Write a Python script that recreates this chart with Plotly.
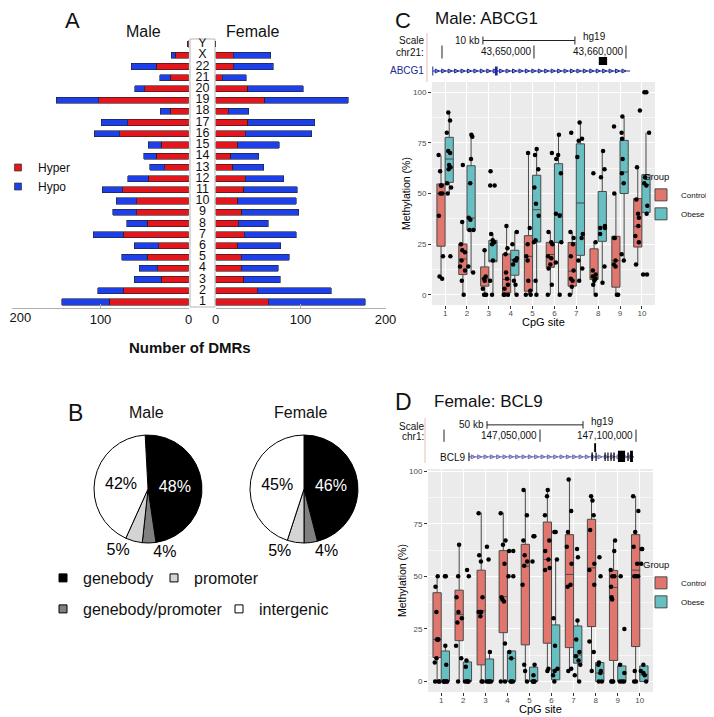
import numpy as np
import plotly.graph_objects as go

W, H = 714, 717
OFF = 8  # the page body adds an 8px margin around the plot div
FONT = "Liberation Sans, Arial, sans-serif"


def px(x):
    return (x - OFF) / W


def py(y):
    return 1 - (y - OFF) / H


# ---------------- panel A: DMRs per chromosome ----------------
chroms = [str(i) for i in range(1, 23)] + ["X", "Y"]
male_hyper = [90, 74, 31, 35, 47, 34, 74, 47, 59, 59, 75, 46, 27, 37, 31, 78, 69, 21, 102, 50, 21, 37, 15, 1]
male_hypo = [54, 29, 31, 21, 29, 28, 34, 23, 27, 23, 23, 23, 17, 14, 15, 29, 30, 11, 48, 11, 12, 28, 5, 0]
female_hyper = [62, 49, 33, 30, 30, 26, 34, 27, 31, 26, 33, 35, 20, 18, 26, 35, 38, 15, 58, 38, 8, 21, 21, 0]
female_hypo = [114, 87, 43, 44, 57, 51, 61, 35, 67, 69, 63, 45, 37, 33, 49, 78, 79, 24, 98, 65, 28, 47, 44, 0]
dmr_ticks = [0, 100, 200]

# ---------------- panel B: genomic location ----------------
pie_labels = ["genebody", "genebody/promoter", "promoter", "intergenic"]
pie_colors = ["#000000", "#808080", "#d4d4d4", "#ffffff"]
male_pie = [48, 4, 5, 42]
female_pie = [46, 4, 5, 45]
male_pie_text = ["48%", "4%", "5%", "42%"]
female_pie_text = ["46%", "4%", "5%", "45%"]

# ---------------- panels C / D: methylation per CpG site ----------------
sites = list(range(1, 11))

c_ctrl_q1 = [24, 10, 4.3, 1, 1.8, 13.6, 4.3, 7.6, 3.8, 23.6]
c_ctrl_med = [50, 17.7, 7.9, 7.6, 19, 19.9, 11.7, 8.7, 16.9, 33.8]
c_ctrl_q3 = [54.7, 25.1, 13.8, 20.2, 29.2, 25.9, 25.8, 22.7, 28.9, 47.5]
c_ctrl_lo = [8.4, 0, 0, 0, 0, 0, 0, 0, 0, 14.6]
c_ctrl_hi = [68.8, 36, 22.3, 33.8, 70.4, 31, 31, 26.4, 50, 62.9]
c_ob_q1 = [55.5, 31.7, 16.3, 9.7, 26.1, 25.9, 19.5, 26.4, 50, 40.7]
c_ob_med = [67, 37.9, 17, 17.4, 42, 40, 45.3, 33.5, 60.6, 54.4]
c_ob_q3 = [77.7, 63.7, 26.9, 22, 59, 64.7, 74.5, 51, 76.2, 59.3]
c_ob_lo = [50, 10.8, 0, 0, 0, 0, 7, 6.4, 17, 40.4]
c_ob_hi = [90, 79, 30.2, 31.4, 71.6, 78.7, 84.7, 70.8, 87.5, 80]
c_ctrl_pts = [
    [69, 61, 54, 54, 50, 50, 39, 19, 9, 8],
    [64, 36, 25, 22, 21, 17, 14, 12, 7, 0],
    [22, 9, 8, 7, 3, 0, 0, 0],
    [34, 23, 20, 11, 8, 5, 3, 0, 0, 0],
    [70, 33, 25, 19, 17, 7, 2, 0, 0],
    [70, 31, 26, 25, 19, 18, 15, 13, 5, 0],
    [80, 31, 28, 25, 19, 12, 8, 7, 4, 0],
    [60, 26, 12, 10, 9, 8, 7, 5, 0],
    [83, 50, 28, 28, 17, 15, 14, 0, 0],
    [91, 63, 47, 40, 38, 34, 29, 26, 15],
]
c_ob_pts = [
    [90, 86, 80, 71, 70, 64, 63, 62, 55, 53, 50, 19],
    [79, 78, 67, 55, 38, 37, 32, 32, 14, 11],
    [61, 54, 54, 30, 27, 26, 25, 17, 7, 0],
    [31, 25, 18, 17, 17, 15, 7, 5, 0],
    [72, 69, 62, 53, 45, 39, 27, 26, 7, 0],
    [79, 69, 67, 60, 40, 39, 26, 16, 0],
    [85, 77, 76, 68, 30, 28, 17, 13, 7],
    [71, 62, 58, 34, 33, 33, 30, 14, 6],
    [88, 80, 77, 67, 60, 55, 20, 17],
    [100, 100, 80, 58, 55, 54, 44, 40, 10, 10],
]

d_ctrl_q1 = [11.4, 19.4, 7.9, 23.2, 17.4, 18.2, 16.1, 26.1, 10, 16.6]
d_ctrl_med = [20, 31.9, 33.6, 40.3, 54.8, 58, 50.9, 54, 44.7, 52.9]
d_ctrl_q3 = [42.2, 43.4, 52.9, 62.2, 65.2, 75.8, 69.8, 77.1, 52.8, 69.8]
d_ctrl_lo = [0, 0, 0, 0, 0, 4.4, 4.7, 5.2, 0, 0]
d_ctrl_hi = [50.2, 65.6, 80.3, 80.3, 90.8, 91.3, 96.4, 88.2, 66.8, 88.2]
d_ob_q1 = [0, 0, 0, 0, 0, 0.8, 8.7, 0, 0, 0]
d_ob_med = [0, 0, 0, 11, 0, 5.5, 12.6, 4, 0, 3.2]
d_ob_q3 = [14.5, 9.3, 10.7, 14.5, 6.8, 26.9, 26.4, 9, 7.4, 7.4]
d_ob_lo = [0, 0, 0, 0, 0, 0, 0, 0, 0, 0]
d_ob_hi = [16.9, 10, 14.2, 14.5, 8.7, 57.7, 28.8, 9, 8.7, 8.7]
d_ctrl_pts = [
    [50, 45, 33, 20, 20, 20, 11, 9, 0, 0, 0],
    [65, 50, 40, 33, 30, 28, 17, 11, 0],
    [80, 60, 57, 40, 33, 33, 33, 31, 0, 0],
    [80, 67, 65, 56, 40, 39, 38, 18, 0, 0],
    [91, 79, 67, 60, 57, 55, 46, 8, 5, 0],
    [91, 88, 79, 67, 62, 58, 54, 53, 6, 5],
    [96, 81, 71, 64, 56, 46, 45, 6, 5],
    [88, 86, 79, 72, 56, 53, 46, 19, 14, 5],
    [67, 62, 53, 50, 50, 45, 40, 39, 0, 0, 0],
    [88, 81, 71, 64, 56, 50, 50, 50, 5, 0, 0],
]
d_ob_pts = [
    [50, 50, 17, 8, 0, 0, 0, 0, 0],
    [53, 50, 10, 7, 0, 0, 0, 0],
    [64, 58, 14, 0, 0, 0, 0],
    [62, 62, 50, 50, 14, 11, 0, 0, 0],
    [69, 69, 57, 8, 3, 0, 0, 0, 0],
    [71, 71, 58, 30, 17, 6, 5, 3, 0],
    [63, 59, 29, 20, 14, 12, 10, 8, 3, 0],
    [59, 50, 9, 8, 5, 4, 0, 0],
    [50, 25, 8, 4, 0, 0, 0],
    [63, 63, 56, 8, 5, 4, 3, 0],
]

# ---------------- genome browser tracks (hg19) ----------------
c_ticks = [43640000, 43650000, 43660000]
c_tick_labels = ["", "43,650,000", "43,660,000"]
c_scale = [43644450, 43654450]
c_gene = [43639000, 43660450]
c_exons = [(43645750, 43646050)]
c_dmr = [43657050, 43657950]

d_ticks = [147000000, 147050000, 147100000]
d_tick_labels = ["", "147,050,000", "147,100,000"]
d_scale = [147022400, 147072400]
d_gene = [147013000, 147098900]
d_exons_thin = [(147076800, 147077500), (147078900, 147079500), (147083600, 147084200),
                (147085100, 147085700), (147086700, 147087300), (147088200, 147088900),
                (147095500, 147096200)]
d_exons_thick = [(147090600, 147094300), (147096900, 147098400)]
d_dmr = [147078200, 147079200]

RED, BLUE = "#E3161D", "#1E40EA"
CTRL, OBESE = "#E0766D", "#67BFC2"

fig = go.Figure()

# ---- A: bars
bar_line = dict(color="rgba(30,30,30,0.85)", width=0.7)
for xa, hyper, hypo in [("x", male_hyper, male_hypo), ("x2", female_hyper, female_hypo)]:
    fig.add_trace(go.Bar(y=chroms, x=hyper, orientation="h", name="Hyper", marker=dict(color=RED, line=bar_line),
                         xaxis=xa, yaxis="y", showlegend=False))
    fig.add_trace(go.Bar(y=chroms, x=hypo, orientation="h", name="Hypo", marker=dict(color=BLUE, line=bar_line),
                         xaxis=xa, yaxis="y", showlegend=False))
for lab, col in [("Hyper", RED), ("Hypo", BLUE)]:
    fig.add_trace(go.Scatter(x=[None], y=[None], mode="markers", name=lab, xaxis="x", yaxis="y",
                             marker=dict(symbol="square", size=7, color=col, line=dict(color="#333", width=0.7)),
                             legend="legend3"))
fig.add_trace(go.Scatter(x=[0] * len(chroms), y=chroms, text=chroms, mode="text", xaxis="x3", yaxis="y",
                         textfont=dict(size=12.5, color="#111", family=FONT), showlegend=False, hoverinfo="skip"))
# empty trace so the overlay axis carrying the "200" label gets drawn
fig.add_trace(go.Scatter(x=[None], y=[None], mode="markers", xaxis="x8", yaxis="y", showlegend=False,
                         hoverinfo="skip"))

# ---- B: pies
for vals, txt, xd, rot in [(male_pie, male_pie_text, (94, 202), -3), (female_pie, female_pie_text, (250, 358), 0)]:
    fig.add_trace(go.Pie(
        values=vals, labels=pie_labels, text=txt, textinfo="text", sort=False, direction="clockwise",
        rotation=rot,
        marker=dict(colors=pie_colors, line=dict(color="black", width=1)),
        textposition=["inside", "outside", "outside", "inside"],
        insidetextorientation="horizontal",
        textfont=dict(size=16, family=FONT, color=["white", "black", "black", "black"]),
        domain=dict(x=[px(xd[0]), px(xd[1])], y=[py(543), py(435)]),
        showlegend=False, hoverinfo="label+percent"))

# legend keys for B
for lab, col in zip(pie_labels, pie_colors):
    fig.add_trace(go.Scatter(x=[None], y=[None], mode="markers", name=lab, xaxis="x", yaxis="y",
                             marker=dict(symbol="square", size=8, color=col, line=dict(color="black", width=1)),
                             legend="legend4" if lab in ("genebody", "promoter") else "legend5"))


# ---- C / D: boxplots with points
def add_boxes(xa, ya, leg, groups):
    for name, color, q1, med, q3, lo, hi, pts, og in groups:
        fig.add_trace(go.Box(
            x=sites, q1=q1, median=med, q3=q3, lowerfence=lo, upperfence=hi, name=name,
            fillcolor=color, line=dict(color="#4a4a4a", width=1), whiskerwidth=0, boxpoints=False,
            offsetgroup=og, xaxis=xa, yaxis=ya, legend=leg))
        xs = [s for s, p in zip(sites, pts) for _ in p]
        ys = [v for p in pts for v in p]
        fig.add_trace(go.Box(
            x=xs, y=ys, name=name, boxpoints="all", jitter=0.8, pointpos=0,
            fillcolor="rgba(0,0,0,0)", line=dict(width=0), whiskerwidth=0,
            marker=dict(color="black", size=4.5, line=dict(width=0)),
            offsetgroup=og, xaxis=xa, yaxis=ya, showlegend=False, hoveron="points"))


add_boxes("x4", "y4", "legend", [
    ("Control", CTRL, c_ctrl_q1, c_ctrl_med, c_ctrl_q3, c_ctrl_lo, c_ctrl_hi, c_ctrl_pts, "ctrl"),
    ("Obese", OBESE, c_ob_q1, c_ob_med, c_ob_q3, c_ob_lo, c_ob_hi, c_ob_pts, "ob"),
])
add_boxes("x5", "y5", "legend2", [
    ("Control", CTRL, d_ctrl_q1, d_ctrl_med, d_ctrl_q3, d_ctrl_lo, d_ctrl_hi, d_ctrl_pts, "ctrl"),
    ("Obese", OBESE, d_ob_q1, d_ob_med, d_ob_q3, d_ob_lo, d_ob_hi, d_ob_pts, "ob"),
])

# ---- genome browser drawings
shapes = []
annotations = []


def browser(xa, ya, ticks, labels, scale, scale_lbl, gene, gene_y, gene_col, exon_col, chev_step, dmr, dmr_y,
            exons_thin, exons_thick):
    fig.add_trace(go.Scatter(x=scale, y=[0.79, 0.79], mode="lines", line=dict(color="#222", width=1),
                             xaxis=xa, yaxis=ya, showlegend=False, hoverinfo="skip"))
    for s in scale:
        shapes.append(dict(type="line", xref=xa, yref=ya, x0=s, x1=s, y0=0.71, y1=0.87,
                           line=dict(color="#222", width=1)))
    annotations.append(dict(x=scale[0], y=0.79, xref=xa, yref=ya, text=scale_lbl, showarrow=False,
                            xanchor="right", xshift=-1, font=dict(size=10, color="#111", family=FONT)))
    annotations.append(dict(x=scale[1], y=0.86, xref=xa, yref=ya, text="hg19", showarrow=False,
                            xanchor="left", xshift=6, font=dict(size=10, color="#111", family=FONT)))
    for t, lab in zip(ticks, labels):
        shapes.append(dict(type="line", xref=xa, yref=ya, x0=t, x1=t, y0=0.43, y1=0.69,
                           line=dict(color="#222", width=1)))
        if lab:
            annotations.append(dict(x=t, y=0.56, xref=xa, yref=ya, text=lab, showarrow=False,
                                    xanchor="right", xshift=-1, font=dict(size=10, color="#111", family=FONT)))
    shapes.append(dict(type="rect", xref=xa, yref=ya, x0=dmr[0], x1=dmr[1], y0=dmr_y[0], y1=dmr_y[1],
                       fillcolor="black", line=dict(width=0)))
    fig.add_trace(go.Scatter(x=gene, y=[gene_y, gene_y], mode="lines", line=dict(color=gene_col, width=1),
                             xaxis=xa, yaxis=ya, showlegend=False, hoverinfo="skip"))
    chev = np.arange(gene[0] + chev_step, gene[1], chev_step)
    fig.add_trace(go.Scatter(x=chev, y=[gene_y] * len(chev), mode="markers",
                             marker=dict(symbol="arrow-right-open", size=4, color=gene_col,
                                         line=dict(width=1, color=gene_col)),
                             xaxis=xa, yaxis=ya, showlegend=False, hoverinfo="skip"))
    shapes.append(dict(type="line", xref=xa, yref=ya, x0=gene[0], x1=gene[0], y0=gene_y - 0.09, y1=gene_y + 0.09,
                       line=dict(color=exon_col, width=1)))
    for a, b in exons_thin:
        shapes.append(dict(type="rect", xref=xa, yref=ya, x0=a, x1=b, y0=gene_y - 0.09, y1=gene_y + 0.09,
                           fillcolor=exon_col, line=dict(width=0)))
    for a, b in exons_thick:
        shapes.append(dict(type="rect", xref=xa, yref=ya, x0=a, x1=b, y0=gene_y - 0.13, y1=gene_y + 0.13,
                           fillcolor=exon_col, line=dict(width=0)))


browser("x6", "y6", c_ticks, c_tick_labels, c_scale, "10 kb", c_gene, 0.18, "#1c2a93", "#1c2a93", 700,
        c_dmr, (0.3, 0.46), c_exons, [])
browser("x7", "y7", d_ticks, d_tick_labels, d_scale, "50 kb", d_gene, 0.11, "#6a6ab8", "black", 3300,
        d_dmr, (0.21, 0.4), d_exons_thin, d_exons_thick)

# decorative frames / backgrounds
shapes.append(dict(type="rect", xref="paper", yref="paper", x0=px(190), x1=px(215), y0=py(307), y1=py(39),
                   fillcolor="white", line=dict(color="#b5b5b5", width=1), layer="below"))
for xa, ya in [("x4", "y4"), ("x5", "y5")]:
    shapes.append(dict(type="rect", xref=xa + " domain", yref=ya + " domain", x0=0, x1=1, y0=0, y1=1,
                       fillcolor="#EBEBEB", line=dict(width=0), layer="below"))
for xline, y0, y1 in [(427, 33, 82), (425, 418, 463)]:
    shapes.append(dict(type="line", xref="paper", yref="paper", x0=px(xline), x1=px(xline), y0=py(y1), y1=py(y0),
                       line=dict(color="#f2b8b8", width=1)))


def label(x, y, text, size, anchor="center", bold=False, color="#111"):
    t = f"<b>{text}</b>" if bold else text
    annotations.append(dict(x=px(x), y=py(y), xref="paper", yref="paper", text=t, showarrow=False,
                            xanchor=anchor, yanchor="middle", font=dict(size=size, color=color, family=FONT)))


label(72, 21, "A", 22)
label(143, 32, "Male", 16)
label(252, 32, "Female", 16)
label(190, 347, "Number of DMRs", 15, bold=True)
label(75, 413, "B", 23)
label(146, 412, "Male", 16)
label(300, 412, "Female", 16)
label(403, 21, "C", 22)
label(433, 19, "Male: ABCG1", 17, anchor="left")
label(403, 402, "D", 23)
label(432, 401, "Female: BCL9", 17, anchor="left")
label(426, 41, "Scale", 10, anchor="right")
label(426, 52, "chr21:", 10, anchor="right")
label(426, 71, "ABCG1", 10, anchor="right", color="#1c2a93")
label(426, 426, "Scale", 10, anchor="right")
label(426, 437, "chr1:", 10, anchor="right")
label(467, 457, "BCL9", 10, anchor="right")
label(543, 322, "CpG site", 11, color="black")
label(540, 709, "CpG site", 11, color="black")

tickfont = dict(size=8, color="#4D4D4D", family=FONT)
box_x = dict(range=[0.4, 10.6], tickvals=sites, ticks="outside", ticklen=3, tickcolor="#333",
             tickfont=tickfont, showgrid=True, gridcolor="white", gridwidth=1.1, zeroline=False,
             automargin=False, ticklabelstandoff=-3)
box_y = dict(tickvals=[0, 25, 50, 75, 100], ticks="outside", ticklen=3, tickcolor="#333", tickfont=tickfont,
             showgrid=True, gridcolor="white", gridwidth=1.1, zeroline=False, automargin=False,
             minor=dict(dtick=12.5, showgrid=True, gridcolor="#F7F7F7", gridwidth=0.5),
             title=dict(text="Methylation (%)", font=dict(size=10.5, color="black", family=FONT), standoff=0))
a_x = dict(showgrid=False, zeroline=False, showline=True, linecolor="#b0b0b0",
           ticks="inside", ticklen=4, tickcolor="#b0b0b0", automargin=False, ticklabeloverflow="allow",
           tickfont=dict(size=13, color="#111", family=FONT))
leg_box = dict(xanchor="left", yanchor="top", bgcolor="rgba(0,0,0,0)", font=dict(size=8, family=FONT),
               title=dict(text="Group", font=dict(size=9.5, family=FONT)), itemwidth=30, traceorder="normal",
               entrywidth=45)
leg_flat = dict(xanchor="left", yanchor="top", bgcolor="rgba(0,0,0,0)", itemwidth=30)

fig.update_layout(
    width=W, height=H, autosize=False, margin=dict(l=0, r=0, t=0, b=0, autoexpand=False),
    paper_bgcolor="white", plot_bgcolor="rgba(0,0,0,0)",
    font=dict(family=FONT, color="#111"),
    barmode="stack", bargap=0.45, boxmode="group", boxgap=0.25, boxgroupgap=0,
    xaxis=dict(domain=[px(12.3), px(188.7)], range=[200, 0], anchor="y", tickvals=dmr_ticks,
               ticktext=[str(v) if v < 200 else "" for v in dmr_ticks], **a_x),
    # the left-most male label sits on the page edge: drawn on an overlay axis, nudged inward
    # (the axis runs right-to-left, so a negative shift moves the label to the right)
    xaxis8=dict(domain=[px(12.3), px(188.7)], range=[200, 0], anchor="y", overlaying="x",
                tickvals=[max(dmr_ticks)], ticks="", showline=False, showgrid=False, zeroline=False,
                automargin=False, ticklabeloverflow="allow", ticklabelshift=-8,
                tickfont=dict(size=13, color="#111", family=FONT)),
    xaxis2=dict(domain=[px(215.5), px(385.5)], range=[0, 200], anchor="y", tickvals=dmr_ticks, **a_x),
    xaxis3=dict(domain=[px(190), px(215)], range=[-1, 1], anchor="y", visible=False),
    yaxis=dict(domain=[py(307.6), py(38.4)], type="category", categoryorder="array", categoryarray=chroms,
               range=[-0.5, 23.5], visible=False),
    xaxis4=dict(domain=[px(432), px(655)], anchor="y4", **box_x),
    yaxis4=dict(domain=[py(305), py(82)], range=[-5, 105], anchor="x4", **box_y),
    xaxis5=dict(domain=[px(428), px(653)], anchor="y5", **box_x),
    yaxis5=dict(domain=[py(692), py(469)], range=[-5, 101], anchor="x5", **box_y),
    xaxis6=dict(domain=[px(427), px(660)], range=[43638370, 43663700], anchor="y6", visible=False),
    yaxis6=dict(domain=[py(80), py(30)], range=[0, 1], anchor="x6", visible=False),
    xaxis7=dict(domain=[px(425), px(660)], range=[146990100, 147112500], anchor="y7", visible=False),
    yaxis7=dict(domain=[py(462), py(415)], range=[0, 1], anchor="x7", visible=False),
    legend=dict(x=px(641), y=py(168), **leg_box),
    legend2=dict(x=px(641), y=py(556), **leg_box),
    legend3=dict(x=px(-2), y=py(153), font=dict(size=12, family=FONT), **leg_flat),
    legend4=dict(x=px(43), y=py(561), orientation="h", font=dict(size=16, family=FONT), entrywidth=66, **leg_flat),
    legend5=dict(x=px(43), y=py(592), orientation="h", font=dict(size=16, family=FONT), entrywidth=131, **leg_flat),
    shapes=shapes, annotations=annotations,
)

fig.write_html("out.html")
